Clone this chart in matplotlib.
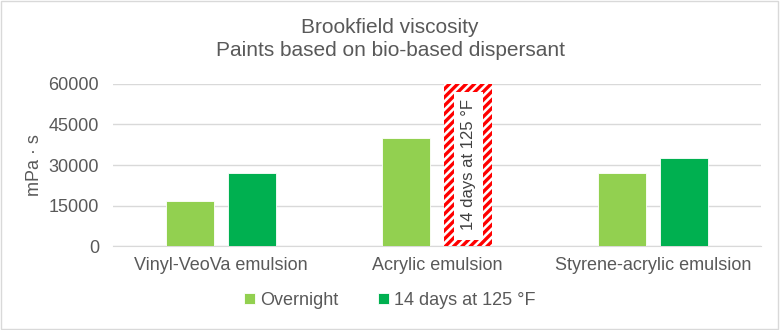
import numpy as np
import matplotlib.pyplot as plt

plt.rcParams['font.family'] = ['Liberation Sans', 'DejaVu Sans']
plt.rcParams['hatch.linewidth'] = 2.4

categories = ["Vinyl-VeoVa emulsion", "Acrylic emulsion", "Styrene-acrylic emulsion"]
overnight = [16500, 40000, 27000]
aged = [27000, np.nan, 32500]   # 14 days at 125 °F; acrylic sample not measured
placeholder_top = 60000
series_labels = ["Overnight", "14 days at 125 °F"]
yticks = [0, 15000, 30000, 45000, 60000]

c_over = "#92d050"
c_aged = "#00b050"
grey = "#595959"

fig = plt.figure(figsize=(7.8, 3.3), dpi=100)
ax = fig.add_axes([0.145, 0.2545, 0.831, 0.491])

x = np.arange(len(categories))
w = 0.222
off = 0.144

ax.bar(x - off, overnight, w, color=c_over, edgecolor="white",
       linewidth=0.6, label=series_labels[0], zorder=3)
ax.bar(x + off, aged, w, color=c_aged, edgecolor="white",
       linewidth=0.6, label=series_labels[1], zorder=3)

# placeholder for the missing aged value
for i, v in enumerate(aged):
    if np.isnan(v):
        ax.bar(x[i] + off, placeholder_top, w, facecolor="white",
               edgecolor="#ff0000", hatch="////", linewidth=0, zorder=3)
        ax.bar(x[i] + off, placeholder_top * 0.915, w * 0.6,
               bottom=placeholder_top * 0.035, facecolor="white",
               linewidth=0, zorder=4)
        ax.text(x[i] + off, placeholder_top / 2, series_labels[1],
                rotation=90, ha="center", va="center", fontsize=12,
                color="#404040", zorder=5)

ax.set_xlim(-0.5, len(categories) - 0.5)
ax.set_ylim(0, 60000)
ax.set_yticks(yticks)
ax.set_yticklabels([str(t) for t in yticks])
ax.set_xticks(x)
ax.set_xticklabels(categories)
ax.tick_params(axis="both", length=0, labelsize=13, colors=grey, pad=10)
ax.tick_params(axis="x", pad=8)
ax.grid(axis="y", color="#d9d9d9", linewidth=1, zorder=0)
for s in ["top", "right", "left"]:
    ax.spines[s].set_visible(False)
ax.spines["bottom"].set_color("#d9d9d9")

ax.set_ylabel("mPa · s", fontsize=13, color=grey, labelpad=4)

fig.text(0.5, 0.918, "Brookfield viscosity", ha="center", va="center",
         fontsize=15, color=grey)
fig.text(0.5, 0.848, "Paints based on bio-based dispersant", ha="center",
         va="center", fontsize=15, color=grey)

fig.legend(loc="center", bbox_to_anchor=(0.5, 0.09), ncol=2, frameon=False,
           fontsize=13, labelcolor=grey, handlelength=0.6, handleheight=0.6,
           handletextpad=0.3, columnspacing=2.2)

border = plt.Rectangle((0.001, 0.002), 0.997, 0.995, transform=fig.transFigure,
                       fill=False, edgecolor="#d9d9d9", linewidth=1)
fig.patches.append(border)

fig.savefig("out.png", dpi=100)
